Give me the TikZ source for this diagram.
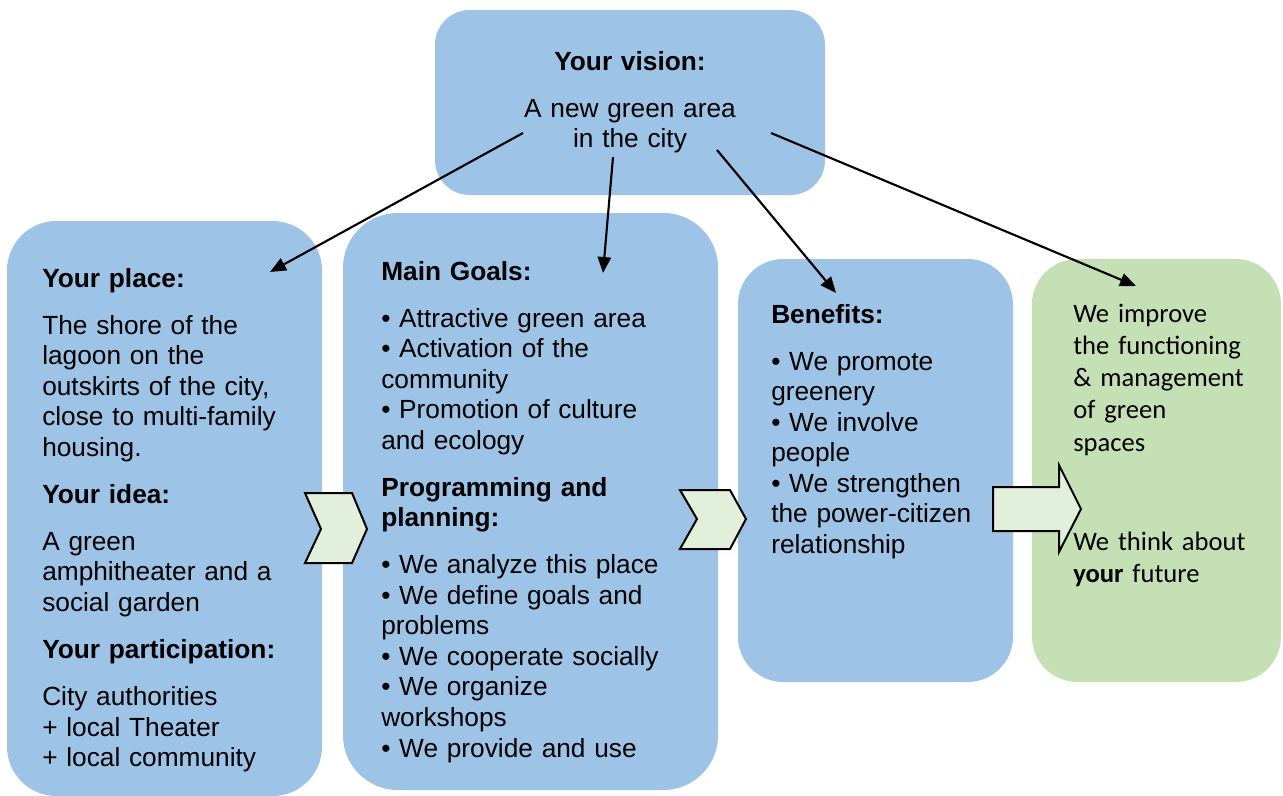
\documentclass[tikz,border=0pt]{standalone}
\usepackage{fontspec}
\setmainfont{Liberation Sans}
\newfontfamily\calibri{Carlito}
\usetikzlibrary{arrows.meta}
\definecolor{boxblue}{HTML}{9DC3E6}
\definecolor{boxgreen}{HTML}{C5E0B4}
\definecolor{chevgreen}{HTML}{E2EFDA}
\tikzset{
  bluebox/.style={fill=boxblue, draw=none},
  greenbox/.style={fill=boxgreen, draw=none},
  txt/.style={inner sep=0pt, anchor=base west, align=left, text width=#1,
    font=\fontsize{19.7}{22.9}\selectfont},
  link/.style={line width=1.6pt, -{Triangle[length=12pt,width=10pt]}},
  chev/.style={fill=chevgreen, draw=black, line width=1.5pt, line join=miter}
}
\newcommand{\gap}{\\[12.4pt]}
\begin{document}
\begin{tikzpicture}[x=0.75pt, y=-0.75pt]
  \useasboundingbox (0,0) rectangle (1283,796);
  % boxes
  \fill[bluebox, rounded corners=26pt] (435,10) rectangle (825,195);
  \fill[bluebox, rounded corners=37pt] (7,221) rectangle (322,796);
  \fill[bluebox, rounded corners=41pt] (343,213) rectangle (718,790);
  \fill[bluebox, rounded corners=34pt] (738,259) rectangle (1013,682);
  \fill[greenbox, rounded corners=34pt] (1032,259) rectangle (1281,682);
  % texts
  \node[txt=200pt, anchor=base, align=center] (vision) at (630,70)
    {\textbf{Your vision:}\gap A new green area\\in the city};
  \node[txt=215pt] (place) at (42,287)
    {\textbf{Your place:}\gap
     The shore of the\\lagoon on the\\outskirts of the city,\\close to multi-family\\housing.\gap
     \textbf{Your idea:}\gap
     A green\\amphitheater and a\\social garden\gap
     \textbf{Your participation:}\gap
     City authorities\\+ local Theater\\+ local community};
  \node[txt=250pt] (goals) at (381,280)
    {\textbf{Main Goals:}\gap
     • Attractive green area\\• Activation of the\\community\\• Promotion of culture\\and ecology\gap
     \textbf{Programming and}\\\textbf{planning:}\gap
     • We analyze this place\\• We define goals and\\problems\\• We cooperate socially\\• We organize\\workshops\\• We provide and use};
  \node[txt=175pt] (benefits) at (771,323)
    {\textbf{Benefits:}\gap
     • We promote\\greenery\\• We involve\\people\\• We strengthen\\the power-citizen\\relationship};
  \node[txt=150pt, font=\calibri\fontsize{19.95}{24.2}\selectfont] (future) at (1073,322)
    {We improve\\the functioning\\\& management\\of green\\spaces\\[50pt]
     We think about\\\textbf{your} future};
  % chevrons and block arrow
  \draw[chev] (305,493) -- (352,493) -- (367,529) -- (352,563) -- (305,563) -- (321,529) -- cycle;
  \draw[chev] (680,490) -- (730,490) -- (746,519) -- (730,549) -- (680,549) -- (697,519) -- cycle;
  \draw[chev] (993,487) -- (1059,487) -- (1059,465) -- (1081,509) -- (1059,552)
    -- (1059,531) -- (993,531) -- cycle;
  % arrows from the vision
  \coordinate (v1) at (523,133);
  \coordinate (v2) at (613,157);
  \coordinate (v3) at (717,150);
  \coordinate (v4) at (771,133);
  \coordinate (placein) at (270,272);
  \coordinate (goalsin) at (603,273);
  \coordinate (benefitsin) at (836,293);
  \coordinate (futurein) at (1136,286);
  \draw[link] (v1) -- (placein);
  \draw[link] (v2) -- (goalsin);
  \draw[link] (v3) -- (benefitsin);
  \draw[link] (v4) -- (futurein);
\end{tikzpicture}
\end{document}
